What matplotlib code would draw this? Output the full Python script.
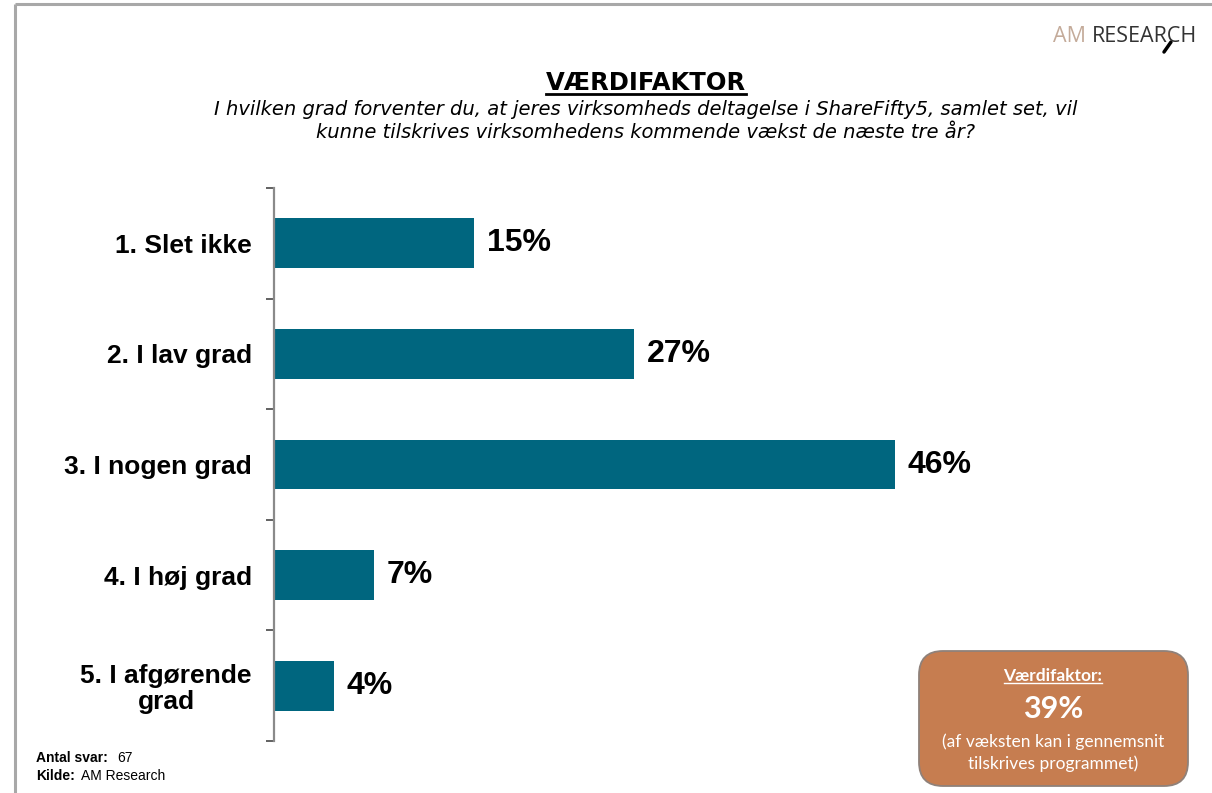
import matplotlib
matplotlib.use("Agg")
import matplotlib.pyplot as plt
from matplotlib.patches import FancyBboxPatch
import numpy as np

# chart data (answer counts out of 67 respondents)
categories = ["1. Slet ikke", "2. I lav grad", "3. I nogen grad", "4. I høj grad", "5. I afgørende\ngrad"]
counts = [10, 18, 31, 5, 3]
n_answers = 67
shares = [c / n_answers * 100 for c in counts]
value_labels = [f"{s:.0f}%" for s in shares]

title = "VÆRDIFAKTOR"
question = ("I hvilken grad forventer du, at jeres virksomheds deltagelse i ShareFifty5, samlet set, vil\n"
            "kunne tilskrives virksomhedens kommende vækst de næste tre år?")
box_head = "Værdifaktor:"
box_value = "39%"
box_note = "(af væksten kan i gennemsnit\ntilskrives programmet)"
source = "AM Research"

BAR = "#00667F"
GRAY = "#8a8a8a"
W, H = 1212, 793

fig = plt.figure(figsize=(W / 100, H / 100), dpi=100)

# main bar axes
ax = fig.add_axes([274 / W, 1 - 741 / H, (1079 - 274) / W, (741 - 188) / H])
y = np.arange(len(categories))
ax.barh(y, shares, height=0.45, color=BAR, zorder=2)
ax.set_ylim(len(categories) - 0.5, -0.5)
ax.set_xlim(0, 60)

ax.set_yticks(y)
ax.set_yticklabels(categories, fontsize=19, fontweight="bold", family="Liberation Sans",
                   multialignment="center", linespacing=1.1)
ax.set_yticks(np.arange(-0.5, len(categories)), minor=True)
ax.tick_params(axis="y", which="major", length=0, pad=16)
ax.tick_params(axis="y", which="minor", length=6, width=1.3, color="#555555")
ax.set_xticks([])
for s in ["top", "right", "bottom"]:
    ax.spines[s].set_visible(False)
ax.spines["left"].set_color(GRAY)
ax.spines["left"].set_linewidth(1.6)

for i, (v, lbl) in enumerate(zip(shares, value_labels)):
    ax.annotate(lbl, (v, i), xytext=(9, 0), textcoords="offset points", ha="left", va="center",
                fontsize=23, fontweight="bold", family="Liberation Sans", color="black")

# overlay in pixel coordinates for the page decorations
ov = fig.add_axes([0, 0, 1, 1])
ov.set_xlim(0, W)
ov.set_ylim(H, 0)
ov.axis("off")
ov.patch.set_alpha(0)

# page frame
ov.plot([15, 15], [4, H], color="#a8a8a8", lw=2.2, solid_capstyle="butt")
ov.plot([15, W], [4, 4], color="#a8a8a8", lw=2.2, solid_capstyle="butt")

# logo
ov.text(1197, 36, "RESEARCH", ha="right", va="center", fontsize=15.5, family="Open Sans", color="#333333")
ov.text(1086, 36, "AM", ha="right", va="center", fontsize=15.5, family="Open Sans", color="#c4ab9a")
ov.plot([1171, 1164], [42, 52], color="black", lw=2.5, solid_capstyle="round")

# title + question
t_title = ov.text(646, 83, title, ha="center", va="center", fontsize=17.5, fontweight="bold",
                  family="DejaVu Sans")
ov.text(646, 121, question, ha="center", va="center", fontsize=14, style="italic",
        family="DejaVu Sans", linespacing=1.3)

# footer
ov.text(36, 758, "Antal svar:", ha="left", va="center", fontsize=10, fontweight="bold", family="Liberation Sans")
ov.text(117, 758, str(n_answers), ha="left", va="center", fontsize=10, family="Liberation Sans")
ov.text(36, 776, "Kilde:", ha="left", va="center", fontsize=10, fontweight="bold", family="Liberation Sans")
ov.text(81, 776, source, ha="left", va="center", fontsize=10, family="Liberation Sans")

# summary box
box = FancyBboxPatch((919, 651), 269, 135, boxstyle="round,pad=0,rounding_size=24",
                     fc="#C67D50", ec="#8f817a", lw=1.3)
ov.add_patch(box)
t_head = ov.text(1053, 676, box_head, ha="center", va="center", fontsize=12.5, fontweight="bold",
                 family="Lato", color="white")
ov.text(1053, 709, box_value, ha="center", va="center", fontsize=22, fontweight="bold",
        family="Lato", color="white")
ov.text(1053, 753, box_note, ha="center", va="center", fontsize=12.5, family="Lato", color="white",
        linespacing=1.4)

# underlines
fig.canvas.draw()
inv = ov.transData.inverted()
for t, off, c, lw in [(t_title, 1, "black", 2.0), (t_head, 1, "white", 1.0)]:
    bb = t.get_window_extent()
    (x0, y0), (x1, _) = inv.transform([[bb.x0, bb.y0], [bb.x1, bb.y1]])
    ov.plot([x0, x1], [y0 - off, y0 - off], color=c, lw=lw)

fig.savefig("out.png", dpi=100)
